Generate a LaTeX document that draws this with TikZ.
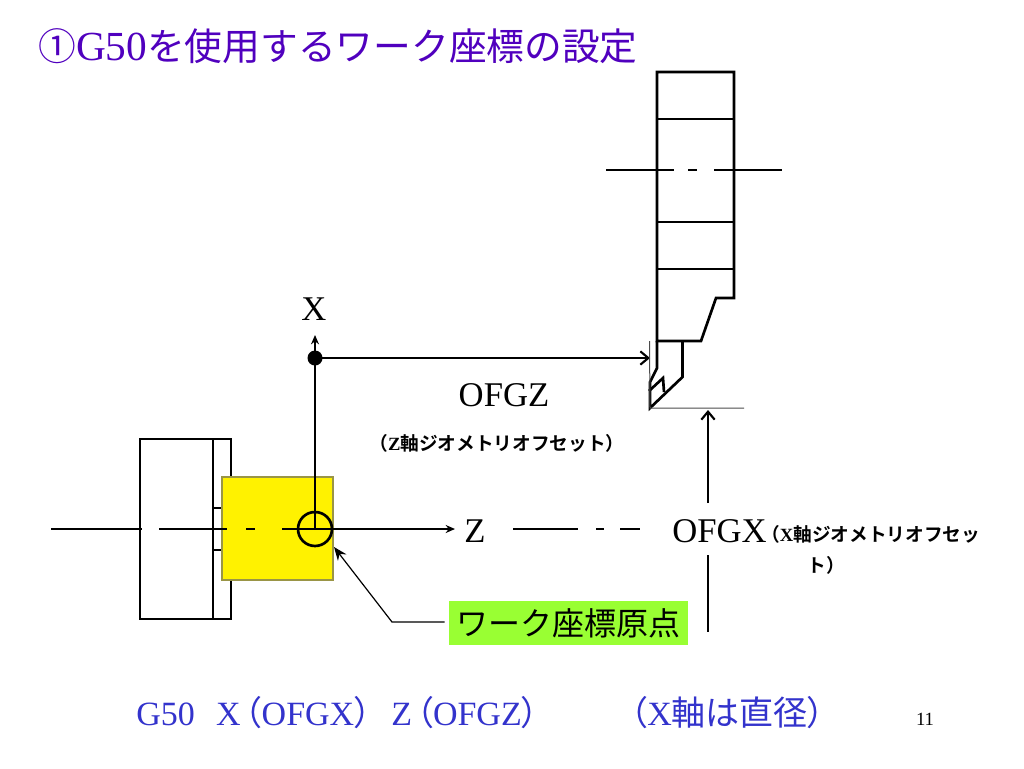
\documentclass[tikz,border=0pt]{standalone}
\usepackage{fontspec}
\setmainfont{Liberation Serif}
\newfontfamily\jpfont{Noto Sans CJK JP}[BoldFont={Noto Sans CJK JP Bold}]
\newfontfamily\jpprop{Noto Sans CJK JP}[RawFeature=+palt]
\usetikzlibrary{arrows.meta}
\definecolor{titleblue}{RGB}{80,0,190}
\definecolor{textblue}{RGB}{51,51,204}
\definecolor{labelgreen}{RGB}{153,255,51}
\tikzset{
  part/.style={line width=2pt,black},
  thinline/.style={line width=0.75pt,black!70},
  axisline/.style={line width=1.6pt,-{Stealth[length=7pt,width=6pt]}},
  dimarrow/.style={line width=1.6pt,-{Straight Barb[length=6pt,width=10pt]}},
  bigtext/.style={font=\fontsize{26}{30}\selectfont,inner sep=0pt},
  smalltext/.style={font=\fontsize{14}{17}\bfseries\selectfont,inner sep=0pt},
  bottomtext/.style={anchor=west,inner sep=0pt,text=textblue,font=\fontsize{25.5}{30}\selectfont}
}
\begin{document}
\begin{tikzpicture}[x=0.75pt,y=-0.75pt]
  \useasboundingbox (0,0) rectangle (1024,768);

  % Title
  \node[anchor=west,inner sep=0pt,text=titleblue,font=\fontsize{31}{36}\selectfont] (title) at (38,46)
    {{\fontsize{28.3}{32}\selectfont\jpfont ①}G50{\fontsize{28.3}{32}\selectfont\jpfont を使用するワーク座標の設定}};

  % Define points
  \coordinate (Origin) at (315,529);
  \coordinate (Pivot) at (315,358);
  \coordinate (XTip) at (315,335);
  \coordinate (ZTip) at (455,529);
  \coordinate (ToolRef) at (650,358);
  \coordinate (Nose) at (650,408);
  \coordinate (OffXTip) at (708,410);

  % Chuck and workpiece
  \draw[part] (140,439) rectangle (231,619);
  \draw[part] (213,439) -- (213,619);
  \draw[part] (213,508) -- (222,508);
  \draw[part] (213,550) -- (222,550);
  \filldraw[fill=yellow,draw=black!45!yellow,line width=0.8pt] (222,477) rectangle (333,580);

  % Draw centre line of the spindle
  \draw[part] (51,529) -- (142,529);
  \draw[part] (159,529) -- (227,529);
  \draw[part] (246,529) -- (255,529);
  \draw[axisline] (282,529) -- (ZTip);
  \draw[part] (513,529) -- (578,529);
  \draw[part] (596,529) -- (604,529);
  \draw[part] (620,529) -- (640,529);

  % Draw axes and origin
  \draw[part] (Origin) circle (17);
  \draw[axisline] (Origin) -- (XTip);
  \fill (Pivot) circle (7.5);
  \draw[dimarrow] (Pivot) -- (ToolRef);

  % Draw tool holder
  \draw[part] (657,72) -- (734,72) -- (734,298) -- (716,298) -- (701,341) -- (657,341) -- cycle;
  \draw[part] (657,119) -- (734,119);
  \draw[part] (657,222) -- (734,222);
  \draw[part] (657,269) -- (734,269);
  \draw[part] (606,170) -- (674,170);
  \draw[part] (688,170) -- (697,170);
  \draw[part] (714,170) -- (782,170);

  % Draw tool tip
  \draw[part] (682.5,341) -- (682.5,377) -- (Nose) -- (650,382) -- (657,368) -- (657,341);
  \draw[part] (649,391) -- (663,378) -- (664,392);
  \draw[thinline] (649.5,341) -- (Nose) -- (744,408);

  % Labels
  \node[bigtext] (xlabel) at (314,309) {X};
  \node[bigtext] (zlabel) at (475,531) {Z};
  \node[bigtext] (ofgz) at (504,395) {OFGZ};
  \node[smalltext] (ofgznote) at (497,443) {{\jpfont （}Z{\jpfont 軸ジオメトリオフセット）}};
  \node[bigtext,anchor=west] (ofgx) at (672,531) {OFGX};
  \node[smalltext,anchor=west] (ofgxnote) at (761,534) {{\jpfont （}X{\jpfont 軸ジオメトリオフセッ}};
  \node[smalltext] (ofgxnotetail) at (826,565) {\jpfont ト）};

  % Draw offset arrow
  \draw[dimarrow] (708,503) -- (OffXTip);
  \draw[part] (708,555) -- (708,632);

  % Origin label
  \node[fill=labelgreen,minimum width=179.25pt,minimum height=33pt,inner sep=0pt,font=\fontsize{24}{28}\jpfont\selectfont] (originlabel) at (568.5,623) {ワーク座標原点};
  \coordinate (Bend) at (392,622);
  \draw[line width=0.9pt,-{Stealth[length=10pt,width=8pt]}] (originlabel.west) ++(-4,-1) -- (Bend) -- (334,547);

  % Bottom line
  \node[bottomtext] (gcode) at (136,713)
    {G50\hspace{16pt}X\hspace{3pt}{\jpprop （}OFGX{\jpprop ）}\hspace{15pt}Z\hspace{3pt}{\jpprop （}OFGZ{\jpprop ）}};
  \node[bottomtext] (gnote) at (630,713)
    {{\jpprop （}X{\jpfont 軸は直径}{\jpprop ）}};
  \node[inner sep=0pt,font=\fontsize{14}{17}\selectfont] (pagenum) at (925,719) {11};
\end{tikzpicture}
\end{document}
